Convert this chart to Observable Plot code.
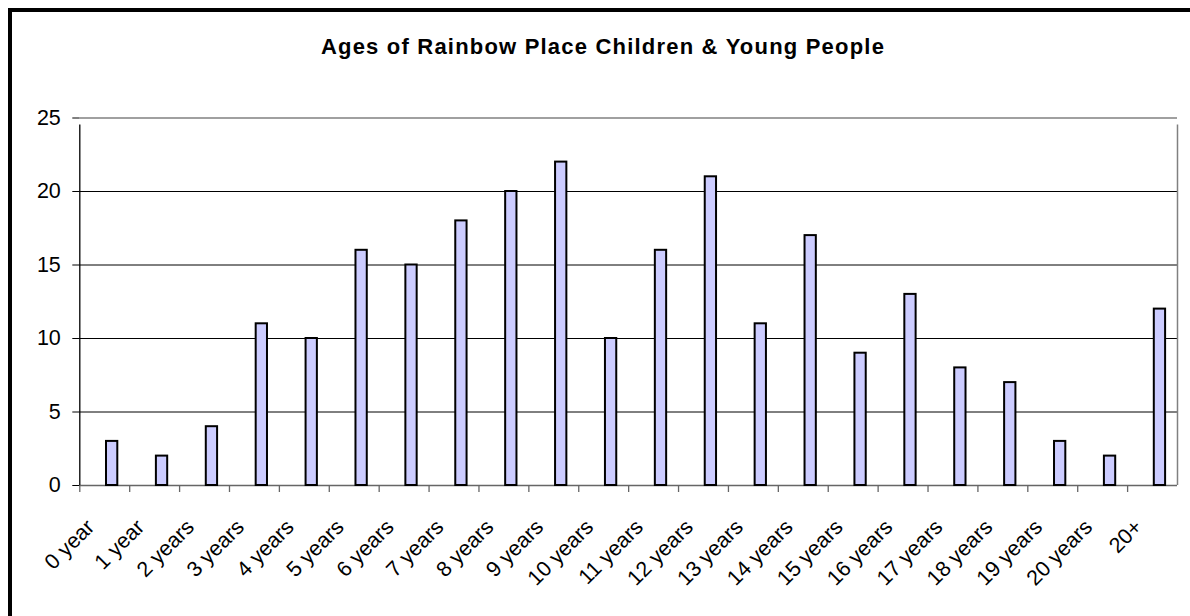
<!DOCTYPE html>
<html>
<head>
<meta charset="utf-8">
<script src="https://cdn.jsdelivr.net/npm/d3@7"></script>
<script src="https://cdn.jsdelivr.net/npm/@observablehq/plot@0.6"></script>
<style>
  html, body { margin: 0; padding: 0; background: #fff; width: 1190px; height: 616px; overflow: hidden; }
  #wrap { position: relative; width: 1190px; height: 616px; font-family: "Liberation Sans", Arial, sans-serif; }
  #frame { position: absolute; left: 8px; top: 8px; width: 1300px; height: 800px;
           border-top: 4.5px solid #000; border-left: 4.5px solid #000; box-sizing: border-box; pointer-events: none; }
  #title { height: 70px; position: relative; }
  #title span { position: absolute; left: 0; right: 0; top: 36px; text-align: center; font-weight: bold;
                font-size: 22px; line-height: 1; letter-spacing: 1.2px; color: #000; padding-left: 16px; }
  svg { display: block; }
</style>
</head>
<body>
<div id="wrap">
  <div id="title"><span>Ages of Rainbow Place Children &amp; Young People</span></div>
  <div id="chart"></div>
  <div id="frame"></div>
</div>
<script>
const categories = ["0 year","1 year","2 years","3 years","4 years","5 years","6 years","7 years","8 years","9 years","10 years","11 years","12 years","13 years","14 years","15 years","16 years","17 years","18 years","19 years","20 years","20+"];
const counts = [3,2,4,11,10,16,15,18,20,22,10,16,21,11,17,9,13,8,7,3,2,12];
const yTicks = [0,5,10,15,20,25];

const data = categories.map((c, i) => ({age: c, count: counts[i]}));

const W = 1190, H = 546, mL = 79.3, mR = 13, mT = 47.5, mB = 131;
const step = (W - mL - mR) / categories.length;
const first = categories[0], last = categories[categories.length - 1];

const plot = Plot.plot({
  width: W, height: H,
  marginLeft: mL, marginRight: mR, marginTop: mT, marginBottom: mB,
  style: {fontFamily: "'Liberation Sans', Arial, sans-serif", fontSize: "21.5px", color: "#000", background: "#fff"},
  x: {domain: categories, padding: 0, round: false, label: null},
  y: {domain: [0, 25], label: null},
  marks: [
    Plot.ruleY(yTicks.filter(d => d > 0 && d < 25), {stroke: "#000", strokeWidth: 1}),
    Plot.ruleY([25], {stroke: "#808080", strokeWidth: 1.5}),
    Plot.ruleY([0], {stroke: "#666", strokeWidth: 1.5}),
    Plot.ruleX([last], {x: d => d, y1: 0, y2: 25, dx: step / 2, insetBottom: -7, stroke: "#808080", strokeWidth: 1.5}),
    Plot.axisX({tickSize: 7, tickFormat: () => "", dx: -step / 2, stroke: "#666", strokeWidth: 1.3}),
    Plot.ruleX([first], {x: d => d, y1: 0, y2: 25, dx: -step / 2, insetBottom: -7, stroke: "#000", strokeWidth: 1.3}),
    Plot.barY(data, {x: "age", y: "count", fill: "#CCCCFF", stroke: "#000", strokeWidth: 2,
                     insetLeft: 26.7, insetRight: 11.9}),
    Plot.axisY({ticks: yTicks, tickSize: 7, tickPadding: 12, stroke: "#000", fill: "#000", fontSize: 21.5}),
    Plot.axisX({tickSize: 0, tickRotate: -45, tickPadding: 38, dx: -14, fontSize: 21.5, fill: "#000"})
  ]
});
document.getElementById("chart").appendChild(plot);
</script>
</body>
</html>
